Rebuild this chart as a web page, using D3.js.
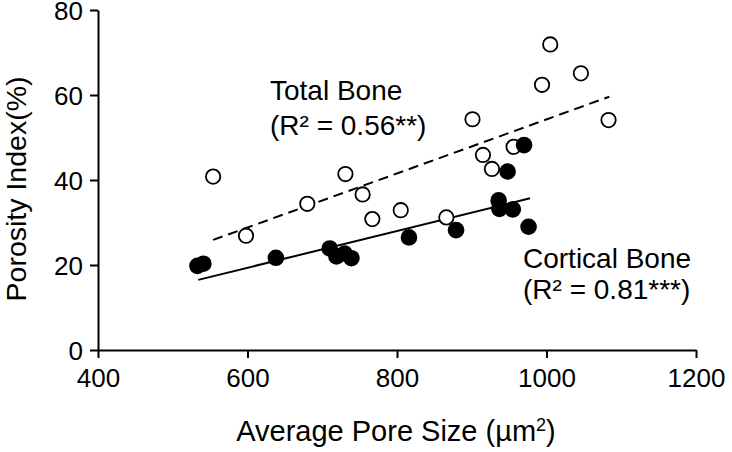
<!DOCTYPE html>
<html><head><meta charset="utf-8">
<script src="https://cdn.jsdelivr.net/npm/d3@7"></script>
<style>
html,body{margin:0;padding:0;background:#fff;}
svg{display:block;font-family:"Liberation Sans",Arial,sans-serif;}
</style></head>
<body><svg id="c" width="732" height="452"></svg>
<script>
// Total Bone (open circles)
const totalX = [554, 598, 680, 731, 754, 767, 805, 866, 901, 915, 927, 956, 994, 1005, 1046, 1083];
const totalY = [40.8, 26.9, 34.4, 41.4, 36.6, 30.8, 32.9, 31.2, 54.3, 45.9, 42.6, 47.8, 62.4, 71.9, 65.1, 54.1];
// Cortical Bone (filled circles)
const corticalX = [533, 541, 638, 710, 719, 730, 739, 816, 879, 936, 937, 948, 955, 970, 976];
const corticalY = [19.8, 20.3, 21.7, 23.9, 22.0, 22.7, 21.6, 26.5, 28.2, 35.2, 33.2, 42.0, 33.1, 48.2, 29.0];
// regression line end points
const totalFitX = [554, 1084];
const totalFitY = [25.9, 59.6];
const corticalFitX = [534, 978];
const corticalFitY = [16.5, 35.7];
const xTicks = [400, 600, 800, 1000, 1200];
const yTicks = [0, 20, 40, 60, 80];

const svg = d3.select("#c");
const x = d3.scaleLinear().domain([400, 1200]).range([98, 696]);
const y = d3.scaleLinear().domain([0, 80]).range([350, 10]);

const xa = svg.append("g").attr("transform", "translate(0,350)")
  .call(d3.axisBottom(x).tickValues(xTicks).tickFormat(d3.format("d")).tickSize(8).tickPadding(11).tickSizeOuter(0));
const ya = svg.append("g").attr("transform", "translate(98,0)")
  .call(d3.axisLeft(y).tickValues(yTicks).tickFormat(d3.format("d")).tickSize(8).tickPadding(7).tickSizeOuter(0));
[xa, ya].forEach(g => {
  g.selectAll("path,line").attr("stroke", "#000").attr("stroke-width", 2);
  g.selectAll("text").attr("font-size", 26).attr("fill", "#000").attr("font-family", "Liberation Sans, Arial, sans-serif");
});
ya.selectAll(".tick text").attr("dy", "0.38em");

const line = d3.line().x(d => x(d[0])).y(d => y(d[1]));
svg.append("path").attr("d", line(totalFitX.map((v, i) => [v, totalFitY[i]])))
  .attr("stroke", "#000").attr("stroke-width", 2).attr("fill", "none").attr("stroke-dasharray", "10,6");
svg.append("path").attr("d", line(corticalFitX.map((v, i) => [v, corticalFitY[i]])))
  .attr("stroke", "#000").attr("stroke-width", 2).attr("fill", "none");

svg.append("g").selectAll("circle").data(totalX.map((v, i) => [v, totalY[i]])).join("circle")
  .attr("cx", d => x(d[0])).attr("cy", d => y(d[1])).attr("r", 7.2)
  .attr("fill", "#fff").attr("stroke", "#000").attr("stroke-width", 1.8);
svg.append("g").selectAll("circle").data(corticalX.map((v, i) => [v, corticalY[i]])).join("circle")
  .attr("cx", d => x(d[0])).attr("cy", d => y(d[1])).attr("r", 8.3)
  .attr("fill", "#000");

svg.append("text").attr("transform", "translate(26,189) rotate(-90)").attr("text-anchor", "middle")
  .attr("font-size", 28.5).text("Porosity Index(%)");
const xt = svg.append("text").attr("x", 396).attr("y", 441).attr("text-anchor", "middle").attr("font-size", 29);
xt.append("tspan").text("Average Pore Size (\u00b5m");
xt.append("tspan").attr("dy", -10).attr("font-size", 18).text("2");
xt.append("tspan").attr("dy", 10).text(")");

const ann = [["Total Bone", 270, 100], ["(R\u00b2 = 0.56**)", 270, 135], ["Cortical Bone", 523, 268], ["(R\u00b2 = 0.81***)", 523, 299]];
svg.selectAll("text.ann").data(ann).join("text").attr("class", "ann")
  .attr("x", d => d[1]).attr("y", d => d[2]).attr("font-size", 28).text(d => d[0]);
</script></body></html>
